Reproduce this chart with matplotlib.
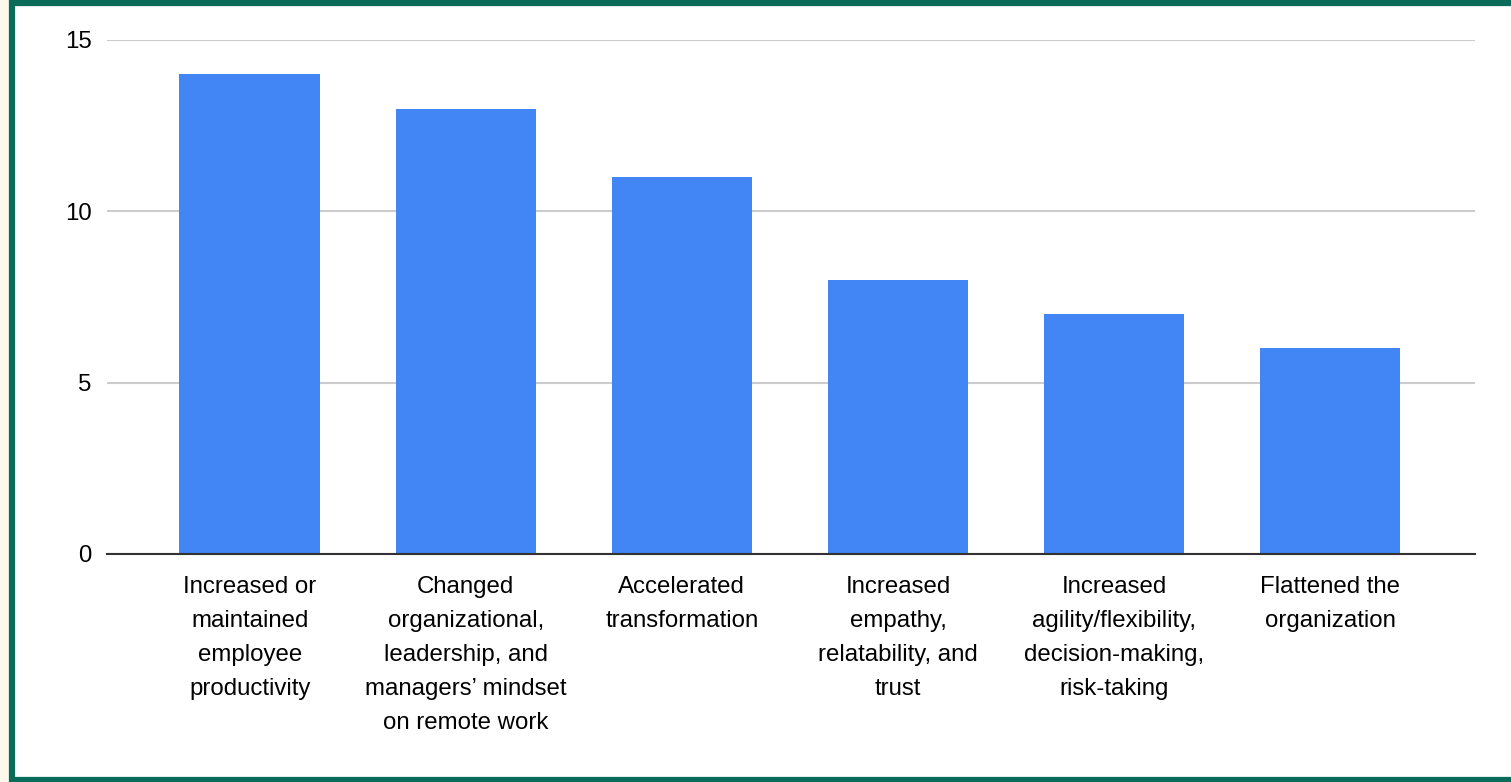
import matplotlib.pyplot as plt
from matplotlib.patches import Rectangle

plt.rcParams['font.family'] = ['Liberation Sans', 'DejaVu Sans']

categories = [
    "Increased or\nmaintained\nemployee\nproductivity",
    "Changed\norganizational,\nleadership, and\nmanagers\u2019 mindset\non remote work",
    "Accelerated\ntransformation",
    "Increased\nempathy,\nrelatability, and\ntrust",
    "Increased\nagility/flexibility,\ndecision-making,\nrisk-taking",
    "Flattened the\norganization",
]
counts = [14, 13, 11, 8, 7, 6]
y_ticks = [0, 5, 10, 15]

fig = plt.figure(figsize=(15.11, 7.82), dpi=100)
fig.patch.set_facecolor("#fdf8ec")

# white panel with green frame, kept behind the axes
frame = Rectangle((12 / 1511, 2 / 782), 1.0, 777 / 782,
                  transform=fig.transFigure, facecolor="white",
                  edgecolor="#0b6b5a", linewidth=4.5, zorder=-1)
fig.add_artist(frame)

ax = fig.add_axes([107 / 1511, 1 - 554 / 782, (1475 - 107) / 1511, (554 - 40) / 782])
ax.set_facecolor("none")

x = range(len(categories))
ax.bar(x, counts, width=0.65, color="#4285f4", zorder=3)

ax.set_ylim(0, 15)
ax.set_xlim(-0.66, len(categories) - 1 + 0.67)
ax.set_yticks(y_ticks)
ax.set_xticks(list(x))
ax.set_xticklabels(categories, fontsize=17.3, linespacing=1.7, va="top")
ax.tick_params(axis="y", labelsize=17.3, length=0, pad=11)
ax.tick_params(axis="x", length=0, pad=16)

ax.grid(axis="y", color="#cccccc", linewidth=1.5, zorder=0)
for side in ["top", "right", "left"]:
    ax.spines[side].set_visible(False)
ax.spines["bottom"].set_color("#333333")
ax.spines["bottom"].set_linewidth(1.5)
ax.spines["bottom"].set_zorder(4)

fig.savefig("out.png", dpi=100)
